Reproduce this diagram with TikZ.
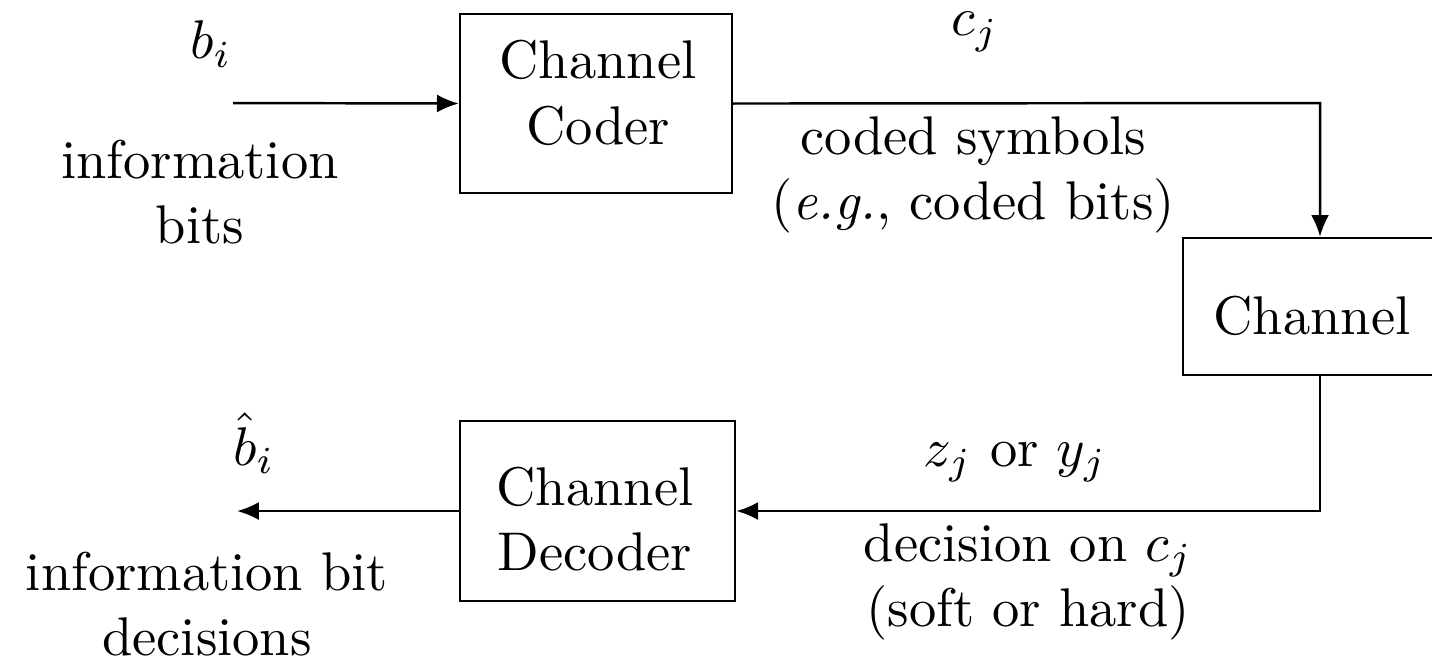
\documentclass[tikz,border=0pt]{standalone}
\usetikzlibrary{arrows.meta}
\begin{document}
\begin{tikzpicture}[x=0.1835pt,y=-0.1835pt,
  block/.style={draw,line width=0.45pt,inner sep=0pt},
  lbl/.style={align=center,inner sep=0pt},
  wire/.style={line width=0.45pt},
  flow/.style={wire,-{Latex[length=4pt,width=3.3pt]}}]
\useasboundingbox (0,0) rectangle (1432,659);
% blocks
\node[block,minimum width=272*0.1835pt,minimum height=179*0.1835pt] (coder) at (596,103.5) {};
\node[block,minimum width=275*0.1835pt,minimum height=180*0.1835pt] (decoder) at (597.5,511) {};
\node[block,minimum width=300*0.1835pt,minimum height=137*0.1835pt] (channel) at (1333,306.5) {};
\node[lbl] (codertext) at (598,93) {Channel\\Coder};
\node[lbl] (decodertext) at (595,519) {Channel\\Decoder};
\node[lbl] (channeltext) at (1312,316) {Channel};
% free ends
\coordinate (in) at (233,103);
\coordinate (out) at (237,511);
\coordinate (c1) at (1320,103);
\coordinate (c2) at (1320,511);
% connectors
\draw[flow] (in) -- (coder.west);
\draw[flow] (coder.east) -- (c1) -- (c1 |- channel.north);
\draw[flow] (c1 |- channel.south) -- (c2) -- (decoder.east);
\draw[flow] (decoder.west) -- (out);
% labels
\node[lbl] (bi) at (211,44) {$b_i$};
\node[lbl] (infobits) at (200,192) {information\\bits};
\node[lbl] (cj) at (975,32) {$c_j$};
\node[lbl] (coded) at (973,175) {coded symbols\\(\emph{e.g.}, coded bits)};
\node[lbl] (bhat) at (254,443) {$\hat{b}_i$};
\node[lbl] (decisions) at (207,604) {information bit\\decisions};
\node[lbl] (zy) at (1015,462) {$z_j$ or $y_j$};
\node[lbl] (decon) at (1028,582) {decision on $c_j$\\(soft or hard)};
\end{tikzpicture}
\end{document}
